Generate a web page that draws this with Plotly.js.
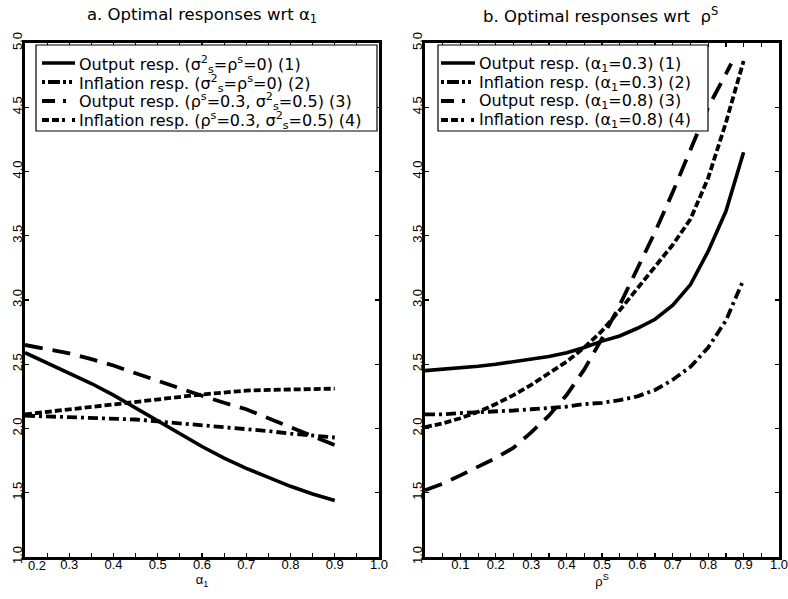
<!DOCTYPE html>
<html>
<head>
<meta charset="utf-8">
<script src="https://cdn.plot.ly/plotly-3.0.1.min.js"></script>
<style>html,body{margin:0;padding:0;background:#fff}</style>
</head>
<body>
<div id="chart" style="width:788px;height:599px"></div>
<script>
// ---------- Panel a: responses wrt alpha_1 ----------
const alphaX = [0.2,0.25,0.3,0.35,0.4,0.45,0.5,0.55,0.6,0.65,0.7,0.75,0.8,0.85,0.9];
const aOutput0 = [2.59,2.51,2.43,2.35,2.26,2.16,2.06,1.96,1.86,1.77,1.69,1.62,1.55,1.49,1.44];
const aInfl0   = [2.10,2.095,2.09,2.085,2.08,2.07,2.055,2.04,2.03,2.015,2.00,1.98,1.96,1.945,1.93];
const aOutput3 = [2.65,2.62,2.585,2.54,2.49,2.43,2.37,2.31,2.255,2.20,2.15,2.08,2.01,1.94,1.87];
const aInfl3   = [2.11,2.13,2.15,2.17,2.19,2.21,2.23,2.25,2.265,2.28,2.295,2.30,2.305,2.31,2.31];

// ---------- Panel b: responses wrt rho^S ----------
const rhoX  = [0,0.05,0.1,0.15,0.2,0.25,0.3,0.35,0.4,0.45,0.5,0.55,0.6,0.65,0.7,0.75,0.8,0.85,0.9];
const rhoX3 = [0,0.05,0.1,0.15,0.2,0.25,0.3,0.35,0.4,0.45,0.5,0.55,0.6,0.65,0.7,0.75,0.8,0.85,0.865];
const bOutput03 = [2.45,2.46,2.47,2.485,2.50,2.52,2.54,2.56,2.59,2.63,2.68,2.72,2.78,2.85,2.96,3.12,3.38,3.69,4.15];
const bInfl03   = [2.11,2.11,2.12,2.125,2.13,2.14,2.15,2.16,2.17,2.19,2.20,2.22,2.25,2.30,2.38,2.48,2.63,2.84,3.16];
const bOutput08 = [1.52,1.57,1.635,1.70,1.77,1.85,1.97,2.10,2.26,2.46,2.70,2.96,3.24,3.53,3.84,4.17,4.50,4.76,4.84];
const bInfl08   = [2.01,2.04,2.08,2.13,2.19,2.26,2.34,2.43,2.52,2.63,2.76,2.92,3.09,3.26,3.43,3.63,3.95,4.38,4.86];

// ---------- Labels ----------
const namesA = [
  'Output resp. (σ<sup>2</sup><sub>s</sub>=ρ<sup>s</sup>=0) (1)',
  'Inflation resp. (σ<sup>2</sup><sub>s</sub>=ρ<sup>s</sup>=0) (2)',
  'Output resp. (ρ<sup>s</sup>=0.3, σ<sup>2</sup><sub>s</sub>=0.5) (3)',
  'Inflation resp. (ρ<sup>s</sup>=0.3, σ<sup>2</sup><sub>s</sub>=0.5) (4)'
];
const namesB = [
  'Output resp. (α<sub>1</sub>=0.3) (1)',
  'Inflation resp. (α<sub>1</sub>=0.3) (2)',
  'Output resp. (α<sub>1</sub>=0.8) (3)',
  'Inflation resp. (α<sub>1</sub>=0.8) (4)'
];
const titleA = 'a. Optimal responses wrt α<sub>1</sub>';
const titleB = 'b. Optimal responses wrt  ρ<sup>S</sup>';
const xTitleA = 'α<sub>1</sub>';
const xTitleB = 'ρ<sup>S</sup>';
const xTicksA = [0.3,0.4,0.5,0.6,0.7,0.8,0.9,1.0];
const xTickTextA = ['0.3','0.4','0.5','0.6','0.7','0.8','0.9','1.0'];
const xFirstTickA = {value:0.2, text:'0.2'};
const xTicksB = [0.1,0.2,0.3,0.4,0.5,0.6,0.7,0.8,0.9,1.0];
const xTickTextB = ['0.1','0.2','0.3','0.4','0.5','0.6','0.7','0.8','0.9','1.0'];
const yTicks = [1.0,1.5,2.0,2.5,3.0,3.5,4.0,4.5,5.0];
const yTickText = ['1.0','1.5','2.0','2.5','3.0','3.5','4.0','4.5','5.0'];

// ---------- Styles ----------
const styles = [
  {dash:'solid', width:3.6},
  {dash:'10px,4px,3px,4px', width:3.8},
  {dash:'18px,10px', width:3.8},
  {dash:'7px,3px', width:3.8}
];
const legendDash = ['solid', '3px,3px,12px,3px,3px', '13px,8px,3px', '7px,3px,7px,3px,3px'];
const FONT = 'Liberation Sans, Arial, Helvetica, sans-serif';
const FONT_WIDE = 'DejaVu Sans, Verdana, sans-serif';

const traces = [];
[aOutput0,aInfl0,aOutput3,aInfl3].forEach((ys,i)=>{
  traces.push({x:alphaX, y:ys, type:'scatter', mode:'lines', name:namesA[i].replace(/<[^>]+>/g,''),
    line:{color:'black', width:styles[i].width, dash:styles[i].dash},
    xaxis:'x', yaxis:'y', showlegend:false});
});
[[rhoX,bOutput03],[rhoX,bInfl03],[rhoX3,bOutput08],[rhoX,bInfl08]].forEach((p,i)=>{
  traces.push({x:p[0], y:p[1], type:'scatter', mode:'lines', name:namesB[i].replace(/<[^>]+>/g,''),
    line:{color:'black', width:styles[i].width, dash:styles[i].dash},
    xaxis:'x2', yaxis:'y2', showlegend:false});
});

const W = 788, H = 599;
const pxX = v => v / W;
const pxY = v => 1 - v / H;

function xAxis(domain, range, tv, tt, title){
  return {domain:domain, range:range, tickvals:tv, ticktext:tt,
    ticks:'inside', ticklen:4, tickwidth:1.2, tickcolor:'black',
    minor:{dtick:0.05, tick0:0, ticks:'inside', ticklen:4, tickwidth:1.2, tickcolor:'black'},
    mirror:'ticks', showline:true, linewidth:2.6, linecolor:'black',
    showgrid:false, zeroline:false, automargin:false, fixedrange:true,
    ticklabeloverflow:'allow', ticklabelstandoff:-6,
    tickfont:{family:FONT, size:13, color:'black'},
    title:{text:title, font:{family:FONT, size:13, color:'black'}, standoff:0}};
}
function yAxis(anchor){
  return {domain:[pxY(557), pxY(43)], range:[1,5], tickvals:yTicks, ticktext:yTickText,
    tickangle:-90, anchor:anchor,
    ticks:'inside', ticklen:4, tickwidth:1.2, tickcolor:'black',
    mirror:'ticks', showline:true, linewidth:2.6, linecolor:'black',
    showgrid:false, zeroline:false, automargin:false, fixedrange:true,
    ticklabeloverflow:'allow', ticklabelstandoff:-5,
    tickfont:{family:FONT, size:13, color:'black'}};
}

// ---------- Hand-drawn legend boxes (layout positions in pixels) ----------
const shapes = [];
const annotations = [];
function addLegend(names, box, sampleX0, sampleX1, textX, rowsY){
  shapes.push({type:'rect', xref:'paper', yref:'paper', layer:'above',
    x0:pxX(box.x0), x1:pxX(box.x1), y0:pxY(box.y1), y1:pxY(box.y0),
    fillcolor:'white', line:{color:'black', width:1.2}});
  names.forEach((nm,i)=>{
    shapes.push({type:'line', xref:'paper', yref:'paper', layer:'above',
      x0:pxX(sampleX0), x1:pxX(sampleX1), y0:pxY(rowsY[i]), y1:pxY(rowsY[i]),
      line:{color:'black', width:styles[i].width, dash:legendDash[i]}});
    annotations.push({text:nm, xref:'paper', yref:'paper', x:pxX(textX), y:pxY(rowsY[i]+1),
      xanchor:'left', yanchor:'middle', showarrow:false, borderpad:0,
      font:{family:FONT_WIDE, size:16, color:'black'}});
  });
}
const rows = [63, 82, 101, 120];
addLegend(namesA, {x0:36, x1:377, y0:45, y1:131}, 42, 75, 78, rows);
addLegend(namesB, {x0:438, x1:708, y0:45, y1:131}, 441, 475, 478, rows);

annotations.push(
  {text:titleA, xref:'paper', yref:'paper', x:pxX(202), y:pxY(15), xanchor:'center', yanchor:'middle',
   showarrow:false, font:{family:FONT_WIDE, size:16.5, color:'black'}},
  {text:titleB, xref:'paper', yref:'paper', x:pxX(600), y:pxY(15), xanchor:'center', yanchor:'middle',
   showarrow:false, font:{family:FONT_WIDE, size:16.5, color:'black'}},
  {text:xFirstTickA.text, xref:'x', yref:'paper', x:xFirstTickA.value, y:pxY(565), xanchor:'center', yanchor:'middle',
   xshift:12, showarrow:false, font:{family:FONT, size:13, color:'black'}}
);

const layout = {
  width:W, height:H,
  margin:{l:0, r:0, t:0, b:0},
  paper_bgcolor:'white', plot_bgcolor:'white',
  font:{family:FONT, size:13, color:'black'},
  showlegend:false,
  xaxis: Object.assign(xAxis([pxX(25), pxX(379)], [0.2,1.0], xTicksA, xTickTextA, xTitleA), {anchor:'y'}),
  yaxis: yAxis('x'),
  xaxis2: Object.assign(xAxis([pxX(425), pxX(779)], [0,1.0], xTicksB, xTickTextB, xTitleB), {anchor:'y2'}),
  yaxis2: yAxis('x2'),
  shapes: shapes,
  annotations: annotations
};

Plotly.newPlot('chart', traces, layout, {displayModeBar:false, staticPlot:true});
</script>
</body>
</html>
